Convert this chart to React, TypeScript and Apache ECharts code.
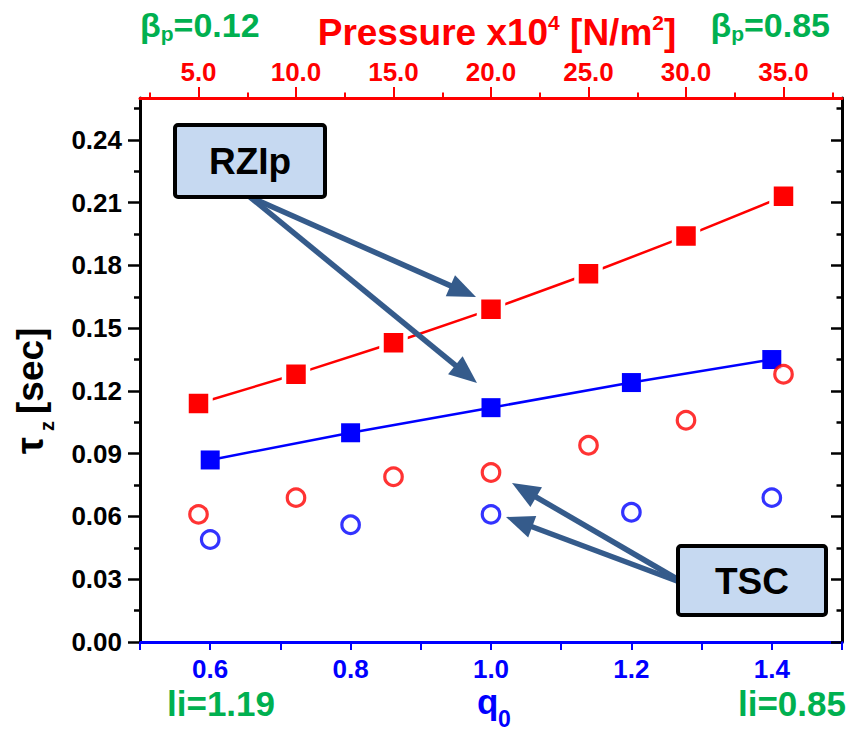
import React, { useEffect, useRef } from 'react';
import * as echarts from 'echarts';

// ---- data ----
const pressureValues = [5, 10, 15, 20, 25, 30, 35];
const rzipTauVsPressure = [0.114, 0.128, 0.143, 0.159, 0.176, 0.194, 0.213];
const tscTauVsPressure = [0.061, 0.069, 0.079, 0.081, 0.094, 0.106, 0.128];
const q0Values = [0.6, 0.8, 1.0, 1.2, 1.4];
const rzipTauVsQ0 = [0.087, 0.1, 0.112, 0.124, 0.135];
const tscTauVsQ0 = [0.049, 0.056, 0.061, 0.062, 0.069];

// ---- ticks ----
const q0TickValues = [0.5, 0.6, 0.7, 0.8, 0.9, 1.0, 1.1, 1.2, 1.3, 1.4, 1.5];
const q0LabelValues = [0.6, 0.8, 1.0, 1.2, 1.4];
const pressureMajorTicks = [5, 10, 15, 20, 25, 30, 35];
const pressureMinorTicks = [2.5, 7.5, 12.5, 17.5, 22.5, 27.5, 32.5, 37.5];
const tauMajorTicks = [0, 0.03, 0.06, 0.09, 0.12, 0.15, 0.18, 0.21, 0.24];
const tauMinorTicks = [0.015, 0.045, 0.075, 0.105, 0.135, 0.165, 0.195, 0.225, 0.255];

const FONT = '"Liberation Sans", Arial, sans-serif';
const RED = '#ff0000';
const BLUE = '#0000ff';
const GREEN = '#00b050';
const ARROW = '#355b8b';

function arrow(x1: number, y1: number, x2: number, y2: number) {
  const dx = x2 - x1;
  const dy = y2 - y1;
  const len = Math.sqrt(dx * dx + dy * dy);
  const ux = dx / len;
  const uy = dy / len;
  const L = 28;
  const W = 11.5;
  const bx = x2 - ux * L;
  const by = y2 - uy * L;
  const px = -uy;
  const py = ux;
  return [
    {
      type: 'line',
      shape: { x1, y1, x2: bx + ux * 3, y2: by + uy * 3 },
      style: { stroke: ARROW, lineWidth: 5.5 },
      z: 10,
    },
    {
      type: 'polygon',
      shape: {
        points: [
          [x2, y2],
          [bx + px * W, by + py * W],
          [bx - px * W, by - py * W],
        ],
      },
      style: { fill: ARROW },
      z: 10,
    },
  ];
}

export default function App() {
  const ref = useRef<HTMLDivElement>(null);

  useEffect(() => {
    if (!ref.current) return;
    const chart = echarts.init(ref.current, undefined, { renderer: 'svg' });

    const labelBase = { fontFamily: FONT, fontSize: 26, fontWeight: 'bold' as const };
    const greenRich = {
      a: { fontFamily: FONT, fontSize: 34, fontWeight: 'bold', fill: GREEN, lineHeight: 38 },
      b: { fontFamily: FONT, fontSize: 21, fontWeight: 'bold', fill: GREEN, lineHeight: 20, verticalAlign: 'bottom' },
    };

    const option: any = {
      animation: false,
      backgroundColor: '#ffffff',
      grid: { left: 140, right: 7, top: 98, bottom: 89, containLabel: false, outerBoundsMode: 'none' },
      xAxis: [
        {
          type: 'value',
          position: 'bottom',
          min: 0.5,
          max: 1.5,
          axisLine: { show: true, onZero: false, lineStyle: { color: BLUE, width: 3 } },
          axisTick: { show: true, customValues: q0TickValues, length: 8, lineStyle: { color: BLUE, width: 2 } },
          axisLabel: {
            show: true,
            customValues: q0LabelValues,
            formatter: (v: number) => v.toFixed(1),
            color: BLUE,
            margin: 14,
            ...labelBase,
          },
          splitLine: { show: false },
        },
        {
          type: 'value',
          position: 'top',
          min: 2,
          max: 38,
          axisLine: { show: true, onZero: false, lineStyle: { color: RED, width: 3 } },
          axisTick: { show: true, customValues: pressureMajorTicks, length: 11, lineStyle: { color: RED, width: 2 } },
          axisLabel: {
            show: true,
            customValues: pressureMajorTicks,
            formatter: (v: number) => v.toFixed(1),
            color: RED,
            margin: 13,
            ...labelBase,
          },
          splitLine: { show: false },
        },
        {
          type: 'value',
          position: 'top',
          min: 2,
          max: 38,
          axisLine: { show: false, onZero: false },
          axisTick: { show: true, customValues: pressureMinorTicks, length: 5.5, lineStyle: { color: RED, width: 2 } },
          axisLabel: { show: false },
          splitLine: { show: false },
        },
      ],
      yAxis: [
        {
          type: 'value',
          position: 'left',
          min: 0,
          max: 0.26,
          axisLine: { show: true, onZero: false, lineStyle: { color: '#000', width: 3 } },
          axisTick: { show: true, customValues: tauMajorTicks, length: 12, lineStyle: { color: '#000', width: 2.5 } },
          axisLabel: {
            show: true,
            customValues: tauMajorTicks,
            formatter: (v: number) => v.toFixed(2),
            color: '#000',
            margin: 18,
            ...labelBase,
          },
          splitLine: { show: false },
        },
        {
          type: 'value',
          position: 'left',
          min: 0,
          max: 0.26,
          axisLine: { show: false, onZero: false },
          axisTick: { show: true, customValues: tauMinorTicks, length: 6, lineStyle: { color: '#000', width: 2.5 } },
          axisLabel: { show: false },
          splitLine: { show: false },
        },
        {
          type: 'value',
          position: 'right',
          min: 0,
          max: 0.26,
          axisLine: { show: true, onZero: false, lineStyle: { color: '#000', width: 3 } },
          axisTick: { show: true, inside: true, customValues: tauMajorTicks, length: 11, lineStyle: { color: '#000', width: 2.5 } },
          axisLabel: { show: false },
          splitLine: { show: false },
        },
        {
          type: 'value',
          position: 'right',
          min: 0,
          max: 0.26,
          axisLine: { show: false, onZero: false },
          axisTick: { show: true, inside: true, customValues: tauMinorTicks, length: 5.5, lineStyle: { color: '#000', width: 2.5 } },
          axisLabel: { show: false },
          splitLine: { show: false },
        },
      ],
      series: [
        {
          name: 'RZIp vs pressure',
          type: 'line',
          xAxisIndex: 1,
          yAxisIndex: 0,
          data: pressureValues.map((p, i) => [p, rzipTauVsPressure[i]]),
          symbol: 'rect',
          symbolSize: 24,
          lineStyle: { color: RED, width: 2.5 },
          itemStyle: { color: RED, borderColor: '#ffffff', borderWidth: 4.5 },
          z: 2,
          silent: true,
        },
        {
          name: 'RZIp vs q0',
          type: 'line',
          xAxisIndex: 0,
          yAxisIndex: 0,
          data: q0Values.map((q, i) => [q, rzipTauVsQ0[i]]),
          symbol: 'rect',
          symbolSize: 19,
          lineStyle: { color: BLUE, width: 2.5 },
          itemStyle: { color: BLUE, borderWidth: 0 },
          z: 2,
          silent: true,
        },
        {
          name: 'TSC vs pressure',
          type: 'scatter',
          xAxisIndex: 1,
          yAxisIndex: 0,
          data: pressureValues.map((p, i) => [p, tscTauVsPressure[i]]),
          symbol: 'circle',
          symbolSize: 17.5,
          itemStyle: { color: '#ffffff', borderColor: RED, borderWidth: 3.2 },
          z: 4,
          silent: true,
        },
        {
          name: 'TSC vs q0',
          type: 'scatter',
          xAxisIndex: 0,
          yAxisIndex: 0,
          data: q0Values.map((q, i) => [q, tscTauVsQ0[i]]),
          symbol: 'circle',
          symbolSize: 17.5,
          itemStyle: { color: '#ffffff', borderColor: BLUE, borderWidth: 3.2 },
          z: 4,
          silent: true,
        },
      ],
      graphic: [
        // top title
        {
          type: 'text',
          x: 497,
          y: 32,
          z: 20,
          style: {
            text: '{m|Pressure x10}{s|4}{m| [N/m}{s|2}{m|]}',
            align: 'center',
            verticalAlign: 'middle',
            rich: {
              m: { fontFamily: FONT, fontSize: 37, fontWeight: 'bold', fill: RED, lineHeight: 40 },
              s: { fontFamily: FONT, fontSize: 21, fontWeight: 'bold', fill: RED, lineHeight: 18, verticalAlign: 'top' },
            },
          },
        },
        {
          type: 'text',
          x: 140,
          y: 25,
          z: 20,
          style: { text: '{a|β}{b|p}{a|=0.12}', align: 'left', verticalAlign: 'middle', rich: greenRich },
        },
        {
          type: 'text',
          x: 830,
          y: 25,
          z: 20,
          style: { text: '{a|β}{b|p}{a|=0.85}', align: 'right', verticalAlign: 'middle', rich: greenRich },
        },
        {
          type: 'text',
          x: 167,
          y: 703,
          z: 20,
          style: { text: 'li=1.19', fill: GREEN, font: `bold 35px ${FONT}`, align: 'left', verticalAlign: 'middle' },
        },
        {
          type: 'text',
          x: 846,
          y: 703,
          z: 20,
          style: { text: 'li=0.85', fill: GREEN, font: `bold 35px ${FONT}`, align: 'right', verticalAlign: 'middle' },
        },
        // q0 axis title
        {
          type: 'text',
          x: 477,
          y: 701,
          z: 20,
          style: { text: 'q', fill: BLUE, font: `bold 35px ${FONT}`, align: 'left', verticalAlign: 'middle' },
        },
        {
          type: 'text',
          x: 498,
          y: 719,
          z: 20,
          style: { text: '0', fill: BLUE, font: `bold 23px ${FONT}`, align: 'left', verticalAlign: 'middle' },
        },
        // y axis title (rotated)
        {
          type: 'group',
          x: 43,
          y: 454,
          rotation: Math.PI / 2,
          z: 20,
          children: [
            {
              type: 'text',
              x: 0,
              y: -13,
              style: { text: 'τ', fill: '#000', font: `bold 38px ${FONT}`, align: 'left', verticalAlign: 'middle' },
            },
            {
              type: 'text',
              x: 23,
              y: 4,
              style: { text: 'z', fill: '#000', font: `bold 20px ${FONT}`, align: 'left', verticalAlign: 'middle' },
            },
            {
              type: 'text',
              x: 40,
              y: -13,
              style: { text: '[sec]', fill: '#000', font: `bold 37px ${FONT}`, align: 'left', verticalAlign: 'middle' },
            },
          ],
        },
        // RZIp annotation
        ...arrow(250, 197, 476, 297),
        ...arrow(250, 197, 477, 383),
        {
          type: 'rect',
          shape: { x: 175, y: 125, width: 150, height: 72, r: 3 },
          style: { fill: '#c6d9f1', stroke: '#000', lineWidth: 4 },
          z: 11,
        },
        {
          type: 'text',
          x: 250,
          y: 161,
          z: 12,
          style: { text: 'RZIp', fill: '#000', font: `bold 37px ${FONT}`, align: 'center', verticalAlign: 'middle' },
        },
        // TSC annotation
        ...arrow(677, 579, 512, 483),
        ...arrow(677, 581, 506, 517),
        {
          type: 'rect',
          shape: { x: 678, y: 546, width: 148, height: 69, r: 3 },
          style: { fill: '#c6d9f1', stroke: '#000', lineWidth: 4 },
          z: 11,
        },
        {
          type: 'text',
          x: 752,
          y: 581,
          z: 12,
          style: { text: 'TSC', fill: '#000', font: `bold 37px ${FONT}`, align: 'center', verticalAlign: 'middle' },
        },
      ],
    };

    chart.setOption(option);
    return () => {
      chart.dispose();
    };
  }, []);

  return (
    <div
      ref={ref}
      style={{ position: 'fixed', left: 0, top: 0, width: 849, height: 731, background: '#fff' }}
    />
  );
}
